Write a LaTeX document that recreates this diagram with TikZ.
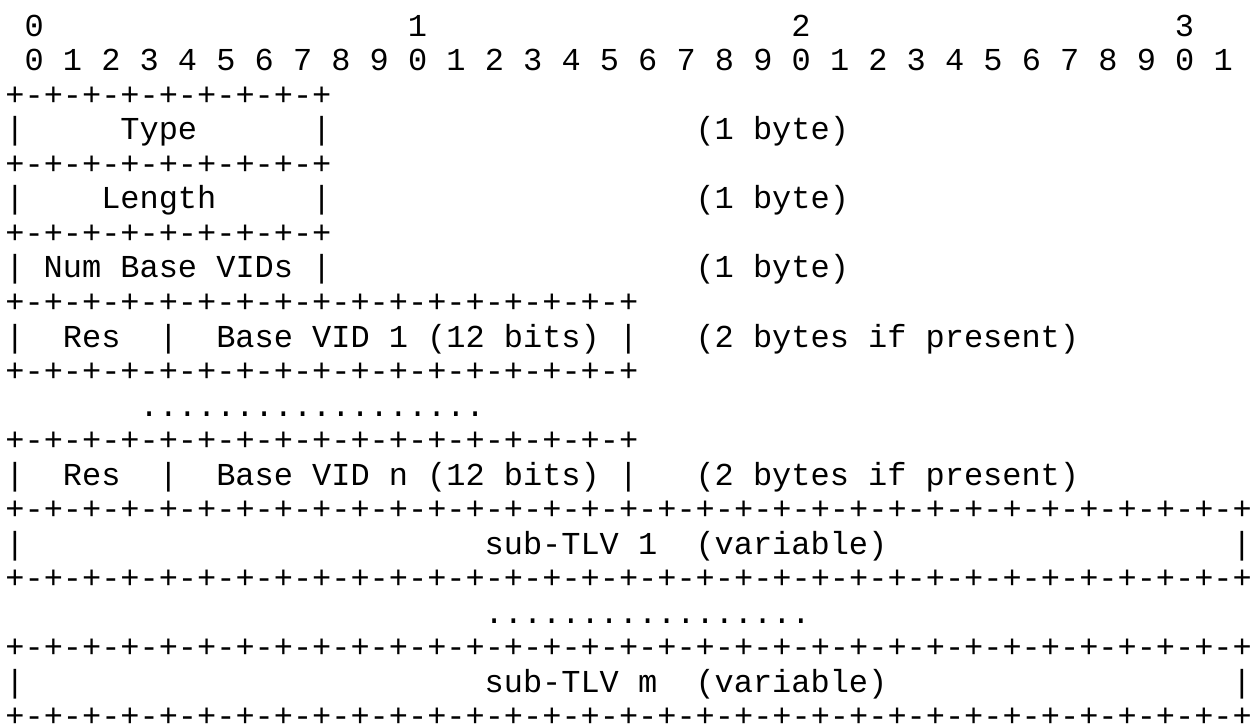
\documentclass[tikz,border=0pt]{standalone}
\usepackage{fontspec}
\setmonofont{Liberation Mono}
\usetikzlibrary{positioning}
\newcommand\asciifont{\ttfamily\fontsize{15.98pt}{17.25pt}\selectfont\frenchspacing}
\tikzset{
  ch/.style   = {anchor=base west, inner sep=0pt, outer sep=0pt, font=\asciifont},
  note/.style = {ch},
}

\begin{document}
\begin{tikzpicture}[x=9.585pt, y=-17.25pt]
  \useasboundingbox (-0.2817,-0.058) rectangle (65.185,20.957);

  % bit ruler
  \node[ch] (ten0) at (1,1)  {0};
  \node[ch] (ten1) at (21,1) {1};
  \node[ch] (ten2) at (41,1) {2};
  \node[ch] (ten3) at (61,1) {3};
  \node[ch] (bits) at (1,2)  {0 1 2 3 4 5 6 7 8 9 0 1 2 3 4 5 6 7 8 9 0 1 2 3 4 5 6 7 8 9 0 1};

  % one-byte fields
  \node[ch] (b3) at (0,3) {+-+-+-+-+-+-+-+-+};
  \node[ch] (type-l) at (0,4)  {|};
  \node[ch] (type)   at (6,4)  {Type};
  \node[ch] (type-r) at (16,4) {|};
  \node[note] (type-n) at (36,4) {(1 byte)};
  \node[ch] (b5) at (0,5) {+-+-+-+-+-+-+-+-+};
  \node[ch] (len-l) at (0,6)  {|};
  \node[ch] (len)   at (5,6)  {Length};
  \node[ch] (len-r) at (16,6) {|};
  \node[note] (len-n) at (36,6) {(1 byte)};
  \node[ch] (b7) at (0,7) {+-+-+-+-+-+-+-+-+};
  \node[ch] (num-l) at (0,8)  {|};
  \node[ch] (num)   at (2,8)  {Num Base VIDs};
  \node[ch] (num-r) at (16,8) {|};
  \node[note] (num-n) at (36,8) {(1 byte)};

  % base VIDs
  \node[ch] (b9) at (0,9) {+-+-+-+-+-+-+-+-+-+-+-+-+-+-+-+-+};
  \node[ch] (vid1-l) at (0,10)  {|};
  \node[ch] (res1)   at (3,10)  {Res};
  \node[ch] (vid1-m) at (8,10)  {|};
  \node[ch] (vid1)   at (11,10) {Base VID 1 (12 bits)};
  \node[ch] (vid1-r) at (32,10) {|};
  \node[note] (vid1-n) at (36,10) {(2 bytes if present)};
  \node[ch] (b11) at (0,11) {+-+-+-+-+-+-+-+-+-+-+-+-+-+-+-+-+};
  \node[ch] (dots1) at (7,12) {..................};
  \node[ch] (b13) at (0,13) {+-+-+-+-+-+-+-+-+-+-+-+-+-+-+-+-+};
  \node[ch] (vidn-l) at (0,14)  {|};
  \node[ch] (resn)   at (3,14)  {Res};
  \node[ch] (vidn-m) at (8,14)  {|};
  \node[ch] (vidn)   at (11,14) {Base VID n (12 bits)};
  \node[ch] (vidn-r) at (32,14) {|};
  \node[note] (vidn-n) at (36,14) {(2 bytes if present)};

  % sub-TLVs
  \node[ch] (b15) at (0,15) {+-+-+-+-+-+-+-+-+-+-+-+-+-+-+-+-+-+-+-+-+-+-+-+-+-+-+-+-+-+-+-+-+};
  \node[ch] (tlv1-l) at (0,16)  {|};
  \node[ch] (tlv1)   at (25,16) {sub-TLV 1};
  \node[ch] (tlv1-v) at (36,16) {(variable)};
  \node[ch] (tlv1-r) at (64,16) {|};
  \node[ch] (b17) at (0,17) {+-+-+-+-+-+-+-+-+-+-+-+-+-+-+-+-+-+-+-+-+-+-+-+-+-+-+-+-+-+-+-+-+};
  \node[ch] (dots2) at (25,18) {.................};
  \node[ch] (b19) at (0,19) {+-+-+-+-+-+-+-+-+-+-+-+-+-+-+-+-+-+-+-+-+-+-+-+-+-+-+-+-+-+-+-+-+};
  \node[ch] (tlvm-l) at (0,20)  {|};
  \node[ch] (tlvm)   at (25,20) {sub-TLV m};
  \node[ch] (tlvm-v) at (36,20) {(variable)};
  \node[ch] (tlvm-r) at (64,20) {|};
  \node[ch] (b21) at (0,21) {+-+-+-+-+-+-+-+-+-+-+-+-+-+-+-+-+-+-+-+-+-+-+-+-+-+-+-+-+-+-+-+-+};
\end{tikzpicture}
\end{document}
